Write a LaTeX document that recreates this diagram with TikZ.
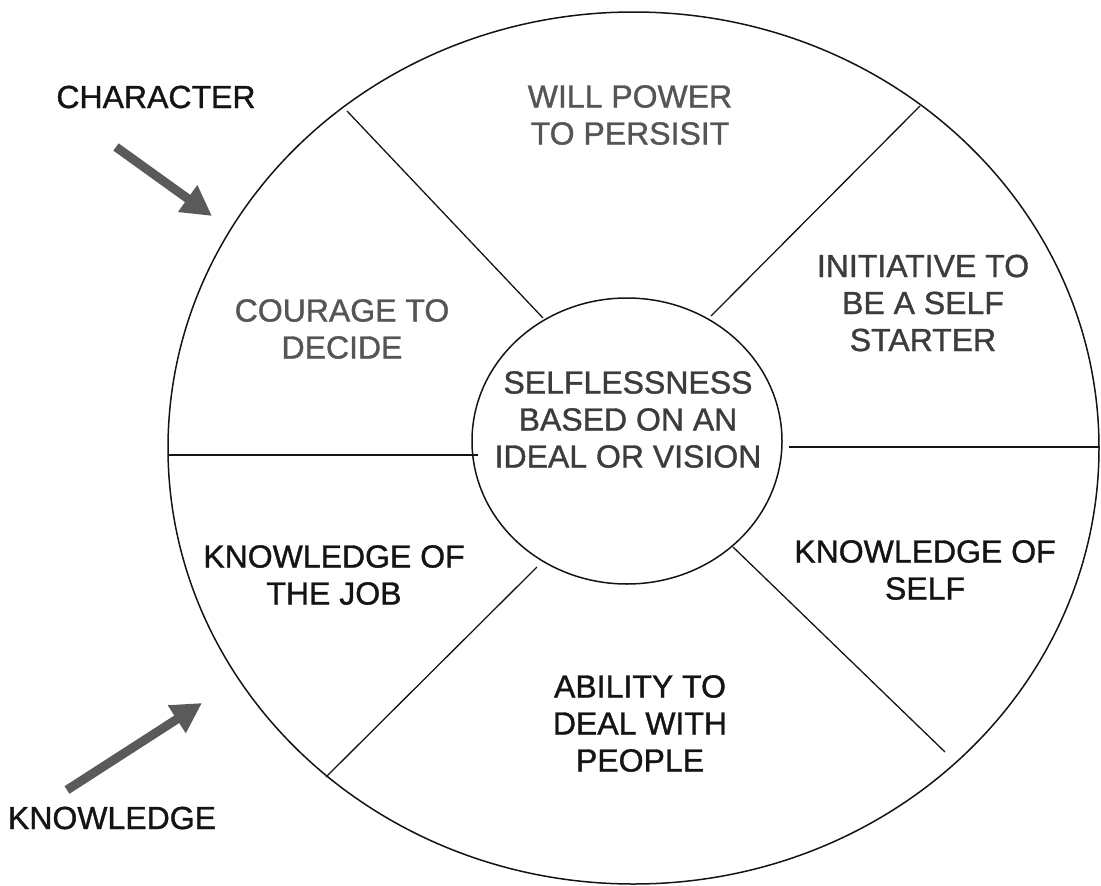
\documentclass[tikz,border=0pt]{standalone}
\usepackage{fontspec}
\setmainfont{Liberation Sans}
\newfontfamily\heavyfont[FakeBold=1.1]{Liberation Sans}
\usetikzlibrary{shapes.geometric,arrows.meta}

\definecolor{inkblack}{RGB}{20,20,20}
\definecolor{inkgray}{RGB}{85,85,85}
\definecolor{inkdark}{RGB}{60,60,60}
\definecolor{arrowgray}{RGB}{90,90,90}

\tikzset{
  label/.style={font=\heavyfont\fontsize{32}{37}\selectfont, align=center, inner sep=0pt, text=inkblack},
  greylabel/.style={label, text=inkgray},
  darklabel/.style={label, text=inkdark},
  ring/.style={draw=inkblack, line width=1.5pt, ellipse, inner sep=0pt},
  spoke/.style={draw=inkblack, line width=1.3pt},
  pointer/.style={draw=arrowgray, line width=9pt,
    -{Triangle[length=30pt,width=31pt]}}
}

\begin{document}
\begin{tikzpicture}[x=1pt,y=-1pt]
  \useasboundingbox (0,0) rectangle (1101,886);

  % outer wheel and hub
  \node[ring, minimum width=931pt, minimum height=872pt] (rim) at (633.5,448) {};
  \node[ring, minimum width=310pt, minimum height=286pt] (hub) at (627,441) {};

  % spoke end points
  \coordinate (ulIn)  at (543,318);  \coordinate (ulOut) at (347,111);
  \coordinate (urIn)  at (711,316);  \coordinate (urOut) at (920,106);
  \coordinate (lIn)   at (478,455);  \coordinate (lOut)  at (168,455);
  \coordinate (rIn)   at (789,447);  \coordinate (rOut)  at (1099,447);
  \coordinate (llIn)  at (537,567);  \coordinate (llOut) at (326,777);
  \coordinate (lrIn)  at (733,547);  \coordinate (lrEnd) at (945,752);

  \draw[spoke] (ulIn) -- (ulOut);
  \draw[spoke] (urIn) -- (urOut);
  \draw[spoke] (lIn) -- (lOut);
  \draw[spoke] (rIn) -- (rOut);
  \draw[spoke] (llIn) -- (llOut);
  \draw[spoke] (lrIn) -- (lrEnd);

  % segment texts
  \node[greylabel] (will) at (630,115) {WILL POWER\\TO PERSISIT};
  \node[darklabel] (init) at (923,303) {INITIATIVE TO\\BE A SELF\\STARTER};
  \node[greylabel] (courage) at (342,329) {COURAGE TO\\DECIDE};
  \node[darklabel] (core) at (628,419.5) {SELFLESSNESS\\BASED ON AN\\IDEAL OR VISION};
  \node[label] (job) at (334,575) {KNOWLEDGE OF\\THE JOB};
  \node[label] (self) at (925,570) {KNOWLEDGE OF\\SELF};
  \node[label] (people) at (640,723.5) {ABILITY TO\\DEAL WITH\\PEOPLE};

  % side captions with their pointers
  \node[label] (character) at (156,97) {CHARACTER};
  \node[label] (knowledge) at (112,818) {KNOWLEDGE};
  \coordinate (charTail) at (116,147);  \coordinate (charTip) at (212,216);
  \coordinate (knowTail) at (67,790);   \coordinate (knowTip) at (202,703);
  \draw[pointer] (charTail) -- (charTip);
  \draw[pointer] (knowTail) -- (knowTip);
\end{tikzpicture}
\end{document}
